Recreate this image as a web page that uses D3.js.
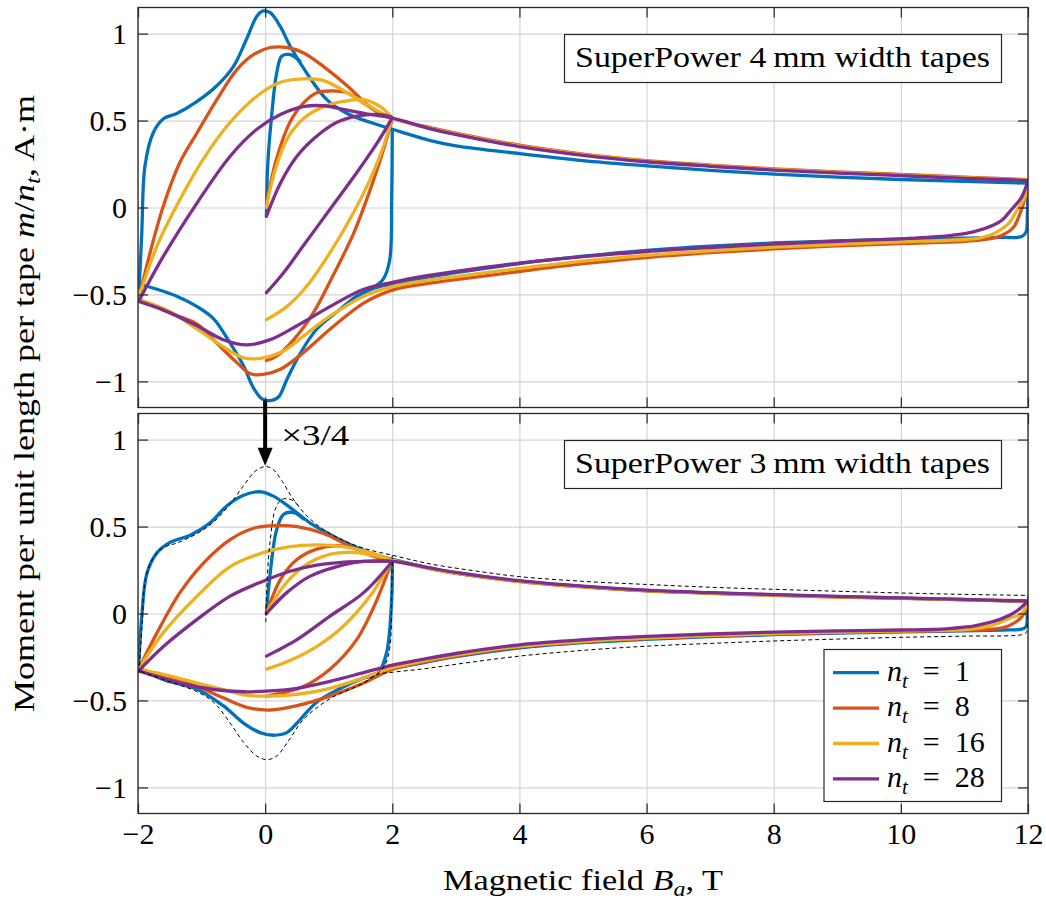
<!DOCTYPE html>
<html>
<head>
<meta charset="utf-8">
<script src="https://cdn.jsdelivr.net/npm/d3@7"></script>
<style>
  body { margin: 0; background: #fff; }
  svg { display: block; }
</style>
</head>
<body>
<div id="chart"></div>
<script>
// axes
const fieldTicks = [-2, 0, 2, 4, 6, 8, 10, 12];
const momentTicks = [-1, -0.5, 0, 0.5, 1];
const tapeCounts = [1, 8, 16, 28];
const colors = ['#0072bd', '#d95319', '#edb120', '#7e2f8e'];
const panelTitles = ['SuperPower 4\u2009mm width tapes', 'SuperPower 3\u2009mm width tapes'];

// each series: [virgin 0->2, ramp 2->0, branch -2->12, branch 12->-2], points are [B, m/nt]
// 4 mm tapes
const top_nt1 = [
  [[0.02,-0.05],[0.04,0.24],[0.10,0.52],[0.18,0.77],[0.26,0.87],[0.37,0.88],[0.45,0.87],[0.55,0.84]],
  [[2.0,0.44],[1.99,0.05],[1.96,-0.30],[1.86,-0.41],[1.70,-0.46],[1.44,-0.51]],
  [[-1.98,-0.46],[-1.94,-0.14],[-1.89,0.24],[-1.76,0.43],[-1.60,0.51],[-1.39,0.54],[-1.07,0.61],[-0.76,0.70],[-0.50,0.81],[-0.29,0.97],[-0.13,1.10],[-0.03,1.13],[0.08,1.12],[0.24,1.04],[0.39,0.93],[0.66,0.77],[0.97,0.62],[1.29,0.54],[1.65,0.49],[2.0,0.45],[2.6,0.385],[3,0.355],[4,0.31],[5,0.27],[6,0.24],[7,0.213],[8,0.192],[9,0.175],[10,0.161],[11,0.15],[12,0.14]],
  [[12,0.14],[11.99,-0.04],[11.97,-0.14],[11.9,-0.167],[11.6,-0.172],[11,-0.176],[10,-0.182],[9,-0.192],[8,-0.204],[7,-0.222],[6,-0.246],[5,-0.28],[4,-0.322],[3,-0.375],[2.5,-0.405],[2.0,-0.44],[1.7,-0.465],[1.44,-0.51],[1.13,-0.60],[0.81,-0.70],[0.55,-0.84],[0.34,-0.99],[0.21,-1.09],[0.08,-1.11],[-0.05,-1.10],[-0.18,-1.04],[-0.34,-0.91],[-0.55,-0.78],[-0.81,-0.64],[-1.07,-0.57],[-1.39,-0.51],[-1.70,-0.47],[-1.98,-0.44]]
];
const top_nt8 = [
  [[0.02,0.02],[0.18,0.28],[0.39,0.49],[0.60,0.60],[0.81,0.66],[1.02,0.67],[1.29,0.66],[1.55,0.60],[1.81,0.54],[1.99,0.51]],
  [[1.99,0.50],[1.86,0.33],[1.65,0.10],[1.39,-0.15],[1.07,-0.39],[0.76,-0.605],[0.45,-0.76],[0.18,-0.855],[0.02,-0.88]],
  [[-1.99,-0.53],[-1.81,-0.26],[-1.60,0.01],[-1.34,0.26],[-1.07,0.43],[-0.76,0.62],[-0.45,0.79],[-0.18,0.88],[0.08,0.92],[0.34,0.92],[0.60,0.89],[0.92,0.81],[1.29,0.70],[1.65,0.58],[1.99,0.515],[2.6,0.46],[3,0.428],[4,0.358],[5,0.307],[6,0.27],[7,0.244],[8,0.222],[9,0.205],[10,0.19],[11,0.175],[12,0.16]],
  [[12,0.16],[11.95,0.05],[11.88,-0.03],[11.78,-0.11],[11.67,-0.145],[11.5,-0.172],[11.3,-0.185],[11,-0.195],[10,-0.207],[9,-0.221],[8,-0.238],[7,-0.26],[6,-0.288],[5,-0.323],[4,-0.368],[3,-0.415],[2.5,-0.44],[2.0,-0.475],[1.55,-0.55],[1.02,-0.70],[0.60,-0.835],[0.24,-0.93],[-0.03,-0.96],[-0.24,-0.955],[-0.45,-0.89],[-0.76,-0.78],[-1.07,-0.67],[-1.39,-0.62],[-1.70,-0.57],[-1.99,-0.53]]
];
const top_nt16 = [
  [[0.02,0.0],[0.13,0.18],[0.34,0.39],[0.60,0.51],[0.92,0.58],[1.23,0.61],[1.55,0.62],[1.81,0.58],[1.99,0.52]],
  [[1.99,0.51],[1.86,0.35],[1.65,0.16],[1.39,-0.03],[1.02,-0.26],[0.66,-0.45],[0.34,-0.57],[0.02,-0.645]],
  [[-1.99,-0.52],[-1.70,-0.22],[-1.34,0.046],[-0.97,0.28],[-0.55,0.49],[-0.13,0.64],[0.24,0.72],[0.60,0.74],[0.92,0.73],[1.29,0.66],[1.65,0.58],[1.99,0.515],[2.6,0.455],[3,0.424],[4,0.354],[5,0.304],[6,0.267],[7,0.241],[8,0.219],[9,0.202],[10,0.187],[11,0.172],[12,0.158]],
  [[12,0.158],[11.95,0.06],[11.82,-0.02],[11.7,-0.09],[11.56,-0.13],[11.4,-0.16],[11.25,-0.174],[11,-0.184],[10,-0.198],[9,-0.212],[8,-0.228],[7,-0.249],[6,-0.275],[5,-0.308],[4,-0.35],[3,-0.398],[2.5,-0.422],[2.0,-0.455],[1.55,-0.51],[1.02,-0.625],[0.60,-0.74],[0.29,-0.825],[-0.03,-0.865],[-0.34,-0.865],[-0.66,-0.80],[-1.07,-0.70],[-1.49,-0.60],[-1.99,-0.53]]
];
const top_nt28 = [
  [[0.02,-0.05],[0.24,0.14],[0.50,0.295],[0.81,0.41],[1.13,0.49],[1.44,0.525],[1.76,0.535],[1.99,0.52]],
  [[1.99,0.51],[1.76,0.37],[1.44,0.20],[1.02,-0.01],[0.60,-0.22],[0.29,-0.375],[0.02,-0.49]],
  [[-1.99,-0.54],[-1.60,-0.28],[-1.07,0.027],[-0.55,0.295],[-0.13,0.45],[0.24,0.535],[0.60,0.58],[0.92,0.585],[1.29,0.56],[1.65,0.535],[1.99,0.515],[2.6,0.452],[3,0.42],[4,0.35],[5,0.3],[6,0.263],[7,0.237],[8,0.215],[9,0.198],[10,0.183],[11,0.168],[12,0.155]],
  [[12,0.155],[11.9,0.06],[11.72,-0.02],[11.6,-0.07],[11.46,-0.10],[11.14,-0.14],[10.8,-0.16],[10.4,-0.172],[10,-0.18],[9,-0.194],[8,-0.21],[7,-0.23],[6,-0.253],[5,-0.283],[4,-0.32],[3,-0.368],[2.5,-0.395],[2.0,-0.43],[1.55,-0.47],[1.02,-0.57],[0.50,-0.68],[0.08,-0.76],[-0.29,-0.79],[-0.66,-0.76],[-1.07,-0.68],[-1.60,-0.59],[-1.99,-0.54]]
];

// 3 mm tapes
const bot_nt1 = [
  [[0.02,0.0],[0.08,0.234],[0.18,0.48],[0.29,0.57],[0.45,0.58],[0.6,0.545]],
  [[2.0,0.31],[1.99,0.08],[1.91,-0.226],[1.78,-0.34],[1.55,-0.37]],
  [[-1.99,-0.30],[-1.94,-0.015],[-1.86,0.23],[-1.70,0.35],[-1.49,0.41],[-1.18,0.45],[-0.87,0.52],[-0.60,0.62],[-0.34,0.68],[-0.08,0.70],[0.13,0.675],[0.39,0.61],[0.71,0.52],[1.02,0.455],[1.44,0.38],[1.81,0.33],[2.02,0.31],[2.6,0.26],[3,0.233],[4,0.186],[5,0.155],[6,0.132],[7,0.118],[8,0.107],[9,0.097],[10,0.088],[11,0.08],[12,0.068]],
  [[12,0.068],[11.99,0.0],[11.97,-0.075],[11.9,-0.09],[11.6,-0.095],[11,-0.1],[10,-0.106],[9,-0.113],[8,-0.122],[7,-0.133],[6,-0.148],[5,-0.168],[4,-0.198],[3,-0.248],[2.5,-0.282],[2.0,-0.318],[1.55,-0.37],[1.13,-0.44],[0.81,-0.51],[0.55,-0.61],[0.34,-0.685],[0.13,-0.70],[-0.08,-0.685],[-0.34,-0.63],[-0.66,-0.53],[-1.07,-0.435],[-1.60,-0.38],[-1.99,-0.31]]
];
const bot_nt8 = [
  [[0.02,0.0],[0.24,0.195],[0.50,0.31],[0.81,0.37],[1.13,0.39],[1.4,0.377]],
  [[1.99,0.30],[1.76,0.08],[1.44,-0.15],[1.02,-0.32],[0.60,-0.42],[0.29,-0.455],[0.02,-0.475]],
  [[-1.99,-0.32],[-1.70,-0.11],[-1.34,0.12],[-0.97,0.29],[-0.55,0.425],[-0.18,0.49],[0.18,0.505],[0.50,0.50],[0.92,0.46],[1.34,0.385],[1.70,0.33],[2.02,0.305],[2.6,0.257],[3,0.231],[4,0.184],[5,0.153],[6,0.13],[7,0.116],[8,0.105],[9,0.095],[10,0.087],[11,0.079],[12,0.07]],
  [[12,0.07],[11.92,-0.01],[11.82,-0.046],[11.7,-0.07],[11.56,-0.086],[11.3,-0.093],[11,-0.097],[10,-0.103],[9,-0.11],[8,-0.118],[7,-0.129],[6,-0.144],[5,-0.163],[4,-0.192],[3,-0.243],[2.5,-0.278],[2.0,-0.32],[1.55,-0.40],[1.02,-0.475],[0.50,-0.53],[0.08,-0.555],[-0.29,-0.54],[-0.66,-0.485],[-1.07,-0.42],[-1.60,-0.36],[-1.99,-0.32]]
];
const bot_nt16 = [
  [[0.02,0.0],[0.29,0.157],[0.60,0.27],[1.02,0.34],[1.44,0.35],[1.81,0.325],[2.0,0.305]],
  [[1.99,0.30],[1.65,0.10],[1.23,-0.073],[0.81,-0.19],[0.39,-0.27],[0.02,-0.32]],
  [[-1.99,-0.32],[-1.60,-0.11],[-1.07,0.10],[-0.55,0.27],[-0.03,0.35],[0.39,0.385],[0.81,0.395],[1.23,0.385],[1.65,0.35],[2.02,0.305],[2.6,0.258],[3,0.232],[4,0.185],[5,0.154],[6,0.131],[7,0.117],[8,0.106],[9,0.096],[10,0.088],[11,0.08],[12,0.07]],
  [[12,0.07],[11.9,0.0],[11.72,-0.025],[11.5,-0.06],[11.3,-0.08],[11,-0.093],[10,-0.1],[9,-0.107],[8,-0.115],[7,-0.126],[6,-0.141],[5,-0.16],[4,-0.189],[3,-0.24],[2.5,-0.273],[2.0,-0.312],[1.55,-0.37],[1.02,-0.43],[0.50,-0.465],[0.08,-0.475],[-0.29,-0.47],[-0.66,-0.437],[-1.07,-0.40],[-1.60,-0.35],[-1.99,-0.32]]
];
const bot_nt28 = [
  [[0.02,0.0],[0.34,0.12],[0.71,0.215],[1.13,0.27],[1.55,0.30],[1.97,0.30]],
  [[1.99,0.295],[1.55,0.12],[1.02,-0.015],[0.50,-0.15],[0.18,-0.215],[0.02,-0.245]],
  [[-1.99,-0.33],[-1.60,-0.19],[-1.07,-0.034],[-0.55,0.10],[-0.03,0.186],[0.39,0.243],[0.81,0.278],[1.29,0.297],[1.65,0.30],[2.02,0.30],[2.6,0.262],[3,0.236],[4,0.189],[5,0.157],[6,0.134],[7,0.12],[8,0.109],[9,0.099],[10,0.09],[11,0.081],[12,0.072]],
  [[12,0.072],[11.82,0.013],[11.56,-0.034],[11.3,-0.06],[11.14,-0.073],[10.8,-0.085],[10.51,-0.092],[10,-0.095],[9,-0.1],[8,-0.107],[7,-0.118],[6,-0.132],[5,-0.151],[4,-0.18],[3,-0.23],[2.5,-0.262],[2.0,-0.297],[1.55,-0.34],[1.02,-0.39],[0.50,-0.43],[0.08,-0.445],[-0.34,-0.45],[-0.81,-0.437],[-1.34,-0.40],[-1.99,-0.33]]
];

// dashed reference in the 3 mm panel (4 mm, n_t = 1, times 3/4)
const scaled_nt1 = [
  [[0.01,-0.05],[0.03,0.18],[0.08,0.42],[0.16,0.6],[0.26,0.655],[0.36,0.66],[0.45,0.645],[0.55,0.61]],
  [[2.0,0.335],[1.99,0.1],[1.96,-0.2],[1.88,-0.3],[1.75,-0.35],[1.55,-0.40]],
  [[-1.98,-0.34],[-1.94,-0.08],[-1.88,0.2],[-1.76,0.32],[-1.6,0.38],[-1.39,0.405],[-1.07,0.46],[-0.8,0.53],[-0.55,0.63],[-0.33,0.74],[-0.15,0.82],[0,0.845],[0.12,0.83],[0.27,0.76],[0.42,0.67],[0.66,0.56],[0.97,0.47],[1.29,0.41],[1.65,0.365],[2.0,0.335],[2.6,0.285],[3.4,0.24],[4,0.212],[5,0.185],[6,0.167],[7,0.151],[8,0.139],[9,0.128],[10,0.118],[11,0.11],[12,0.104]],
  [[12,0.104],[11.99,-0.02],[11.97,-0.11],[11.9,-0.122],[11,-0.13],[10,-0.137],[9,-0.147],[8,-0.158],[7,-0.172],[6,-0.188],[5,-0.212],[4,-0.245],[3,-0.292],[2.5,-0.318],[2.0,-0.338],[1.75,-0.352],[1.55,-0.40],[1.02,-0.49],[0.60,-0.61],[0.39,-0.72],[0.18,-0.82],[0.03,-0.84],[-0.13,-0.82],[-0.34,-0.74],[-0.55,-0.63],[-0.81,-0.51],[-1.07,-0.45],[-1.60,-0.38],[-1.98,-0.33]]
];

let width = 1046;
let height = 900;
let left = 138;
let right = 1028;
let frameColor = '#262626';
let gridColor = '#d4d4d4';
let serif = '"Liberation Serif", "Times New Roman", serif';

let svg = d3.select('#chart')
  .append('svg')
  .attr('width', width)
  .attr('height', height);

let defs = svg.append('defs');

let x = d3.scaleLinear()
  .domain([-2, 12])
  .range([left, right]);

let y;
let line = d3.line()
  .x(d => x(d[0]))
  .y(d => y(d[1]))
  .curve(d3.curveCatmullRom.alpha(0.5));

let tickLabel = d => String(d).replace('-', '\u2212');

function styleAxis(g, color) {
  g.attr('font-family', null).attr('font-size', null);
  g.select('.domain').remove();
  g.selectAll('.tick line').attr('stroke', color).attr('stroke-width', 1.2);
  g.selectAll('.tick text')
    .attr('fill', '#000')
    .style('font-family', serif)
    .style('font-size', '30px');
}

function addText(parent) {
  return parent.append('text')
    .style('font-family', serif)
    .style('font-size', '30px');
}

function renderPanel(options) {
  let { id, top, bottom, series, dashed, title, xLabels } = options;

  y = d3.scaleLinear()
    .domain([-1.15, 1.15])
    .range([bottom, top]);

  let g = svg.append('g');

  defs.append('clipPath')
    .attr('id', id)
    .append('rect')
    .attr('x', left)
    .attr('y', top)
    .attr('width', right - left)
    .attr('height', bottom - top);

  // grid
  g.append('g')
    .attr('transform', 'translate(0,' + bottom + ')')
    .call(d3.axisBottom(x).tickValues(fieldTicks).tickSize(-(bottom - top)).tickFormat(''))
    .call(a => styleAxis(a, gridColor));
  g.append('g')
    .attr('transform', 'translate(' + left + ',0)')
    .call(d3.axisLeft(y).tickValues(momentTicks).tickSize(-(right - left)).tickFormat(''))
    .call(a => styleAxis(a, gridColor));

  let plot = g.append('g').attr('clip-path', 'url(#' + id + ')');

  series.forEach((segments, i) => {
    plot.append('g')
      .selectAll('path')
      .data(segments)
      .enter().append('path')
      .attr('d', line)
      .attr('fill', 'none')
      .attr('stroke', colors[i])
      .attr('stroke-width', 3.3)
      .attr('stroke-linejoin', 'round')
      .attr('stroke-linecap', 'round');
  });

  if (dashed) {
    plot.append('g')
      .selectAll('path')
      .data(dashed)
      .enter().append('path')
      .attr('d', line)
      .attr('fill', 'none')
      .attr('stroke', '#000')
      .attr('stroke-width', 1)
      .attr('stroke-dasharray', '4,3');
  }

  // title box
  g.append('rect')
    .attr('x', 564.5)
    .attr('y', top + 27)
    .attr('width', 437)
    .attr('height', 48)
    .attr('fill', '#fff')
    .attr('stroke', frameColor)
    .attr('stroke-width', 1.2);
  addText(g)
    .attr('x', 575)
    .attr('y', top + 59.5)
    .attr('textLength', 415)
    .attr('lengthAdjust', 'spacingAndGlyphs')
    .text(title);

  // frame and inward ticks
  g.append('rect')
    .attr('x', left)
    .attr('y', top)
    .attr('width', right - left)
    .attr('height', bottom - top)
    .attr('fill', 'none')
    .attr('stroke', frameColor)
    .attr('stroke-width', 1.3);

  g.append('g')
    .attr('transform', 'translate(' + left + ',0)')
    .call(d3.axisLeft(y).tickValues(momentTicks).tickSize(-10).tickPadding(11).tickFormat(tickLabel))
    .call(a => styleAxis(a, frameColor));
  g.append('g')
    .attr('transform', 'translate(' + right + ',0)')
    .call(d3.axisRight(y).tickValues(momentTicks).tickSize(-10).tickFormat(''))
    .call(a => styleAxis(a, frameColor));
  g.append('g')
    .attr('transform', 'translate(0,' + top + ')')
    .call(d3.axisTop(x).tickValues(fieldTicks).tickSize(-10).tickFormat(''))
    .call(a => styleAxis(a, frameColor));

  let xAxis = d3.axisBottom(x).tickValues(fieldTicks).tickSize(-10).tickPadding(9)
    .tickFormat(xLabels ? tickLabel : '');
  g.append('g')
    .attr('transform', 'translate(0,' + bottom + ')')
    .call(xAxis)
    .call(a => styleAxis(a, frameColor));

  return { g, y };
}

let topPanel = renderPanel({
  id: 'clip-top',
  top: 7.5,
  bottom: 407.5,
  series: [top_nt1, top_nt8, top_nt16, top_nt28],
  title: panelTitles[0],
  xLabels: false
});

let bottomPanel = renderPanel({
  id: 'clip-bottom',
  top: 413.5,
  bottom: 813.5,
  series: [bot_nt1, bot_nt8, bot_nt16, bot_nt28],
  dashed: scaled_nt1,
  title: panelTitles[1],
  xLabels: true
});

// legend
let legend = bottomPanel.g.append('g');
legend.append('rect')
  .attr('x', 824)
  .attr('y', 649.5)
  .attr('width', 177.5)
  .attr('height', 152)
  .attr('fill', '#fff')
  .attr('stroke', frameColor)
  .attr('stroke-width', 1.2);

tapeCounts.forEach((n, i) => {
  let ly = 672.7 + i * 35.4;
  legend.append('line')
    .attr('x1', 833)
    .attr('x2', 879)
    .attr('y1', ly)
    .attr('y2', ly)
    .attr('stroke', colors[i])
    .attr('stroke-width', 3.3);
  let t = addText(legend)
    .attr('x', 887)
    .attr('y', ly + 8);
  t.append('tspan').style('font-style', 'italic').text('n');
  t.append('tspan').attr('dy', 7).style('font-size', '21px').style('font-style', 'italic').text('t');
  t.append('tspan').attr('dy', -7).text('\u2002=\u2002' + n);
});

// arrow from the 4 mm n_t = 1 minimum down to the scaled peak
let ax = x(0);
let ay1 = topPanel.y(-1.11);
let ay2 = bottomPanel.y(0.85);
svg.append('line')
  .attr('x1', ax)
  .attr('x2', ax)
  .attr('y1', ay1)
  .attr('y2', ay2 - 16)
  .attr('stroke', '#000')
  .attr('stroke-width', 4);
svg.append('path')
  .attr('d', 'M' + (ax - 7.5) + ',' + (ay2 - 18) + 'L' + (ax + 7.5) + ',' + (ay2 - 18) + 'L' + ax + ',' + ay2 + 'Z')
  .attr('fill', '#000');
addText(svg)
  .attr('x', ax + 16)
  .attr('y', 445)
  .attr('textLength', 68)
  .attr('lengthAdjust', 'spacingAndGlyphs')
  .text('\u00d73/4');

// axis titles
let xTitle = addText(svg)
  .attr('x', 443)
  .attr('y', 890)
  .attr('textLength', 280)
  .attr('lengthAdjust', 'spacingAndGlyphs');
xTitle.append('tspan').text('Magnetic field ');
xTitle.append('tspan').style('font-style', 'italic').text('B');
xTitle.append('tspan').attr('dy', 6).style('font-size', '21px').style('font-style', 'italic').text('a');
xTitle.append('tspan').attr('dy', -6).text(', T');

let yTitle = addText(svg)
  .attr('transform', 'translate(34,712) rotate(-90)')
  .attr('x', 0)
  .attr('y', 0)
  .attr('textLength', 617)
  .attr('lengthAdjust', 'spacingAndGlyphs');
yTitle.append('tspan').text('Moment per unit length per tape ');
yTitle.append('tspan').style('font-style', 'italic').text('m');
yTitle.append('tspan').text('/');
yTitle.append('tspan').style('font-style', 'italic').text('n');
yTitle.append('tspan').attr('dy', 6).style('font-size', '21px').style('font-style', 'italic').text('t');
yTitle.append('tspan').attr('dy', -6).text(', A\u00b7m');
</script>
</body>
</html>
